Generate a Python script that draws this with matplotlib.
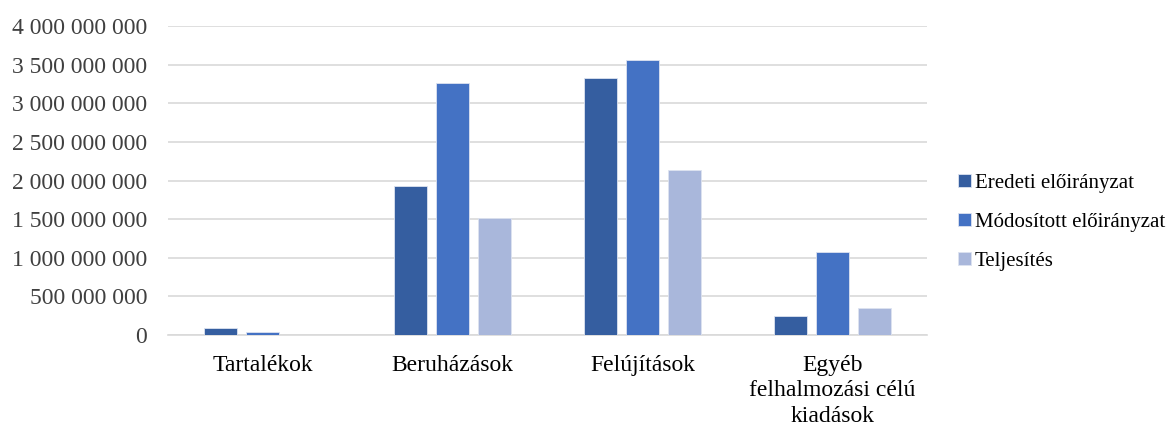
import numpy as np
import matplotlib.pyplot as plt
from matplotlib.ticker import FuncFormatter

plt.rcParams['font.family'] = ['Liberation Serif', 'DejaVu Serif']

categories = ['Tartalékok', 'Beruházások', 'Felújítások',
              'Egyéb\nfelhalmozási célú\nkiadások']
series = ['Eredeti előirányzat', 'Módosított előirányzat', 'Teljesítés']
eredeti = [90e6, 1930e6, 3330e6, 246e6]
modositott = [40e6, 3260e6, 3555e6, 1075e6]
teljesites = [0, 1510e6, 2140e6, 350e6]
colors = ['#355EA0', '#4472C4', '#A9B7DB']

fig = plt.figure(figsize=(11.7, 4.28), dpi=100)
ax = fig.add_axes([0.1436, 0.217, 0.649, 0.722])

x = np.arange(len(categories))
w = 0.174
step = 0.221
for i, (vals, c, name) in enumerate(zip([eredeti, modositott, teljesites], colors, series)):
    ax.bar(x + (i - 1) * step, vals, w, color=c, label=name,
           edgecolor='#DDE3F0', linewidth=0.6, zorder=3)

ax.set_xlim(-0.5, 3.5)
ax.set_ylim(0, 4e9)
ax.set_yticks(np.arange(0, 4.01e9, 5e8))
ax.yaxis.set_major_formatter(FuncFormatter(lambda v, p: f'{int(v):,}'.replace(',', ' ')))
ax.grid(axis='y', color='#D9D9D9', linewidth=1.2, zorder=0)
for s in ['top', 'right', 'left']:
    ax.spines[s].set_visible(False)
ax.spines['bottom'].set_color('#D9D9D9')
ax.spines['bottom'].set_linewidth(1.2)
ax.tick_params(length=0, labelsize=17)
ax.tick_params(axis='y', pad=15, labelcolor='#404040')
ax.tick_params(axis='x', pad=14, labelcolor='black')
ax.set_xticks(x)
ax.set_xticklabels(categories, linespacing=1.3)

ax.legend(loc='center left', bbox_to_anchor=(1.041, 0.365), frameon=False,
          fontsize=15, handlelength=0.62, handleheight=0.62, handletextpad=0.15,
          labelspacing=0.95, borderpad=0, borderaxespad=0)

fig.savefig('out.png', dpi=100)
